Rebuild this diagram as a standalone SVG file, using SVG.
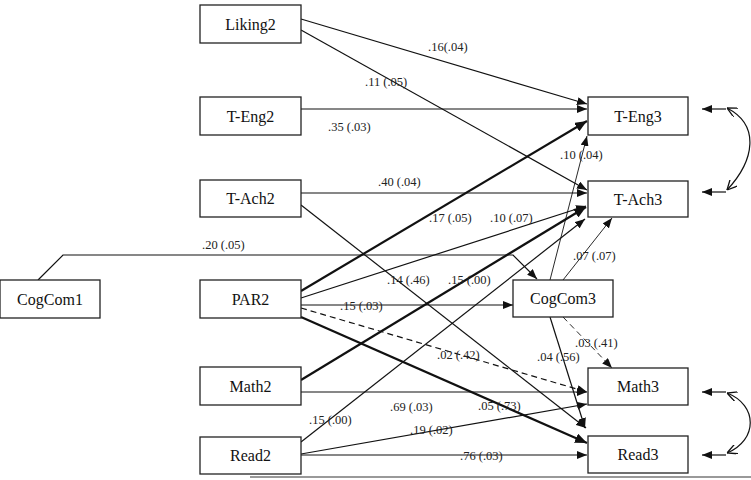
<svg xmlns="http://www.w3.org/2000/svg" width="751" height="480" viewBox="0 0 751 480">
<style>
.box{fill:#fff;stroke:#222;stroke-width:1.3}
.bt{font-size:16px;fill:#111;text-anchor:middle}
.lb{font-size:12.5px;fill:#222}
.c{fill:none;stroke:#111;stroke-width:1.2}
.t{stroke-width:2.2}
.f{stroke-width:0.9}
.d{stroke-dasharray:6,4}
</style>
<defs>
<marker id="ah" viewBox="0 0 10 8" refX="10" refY="4" markerWidth="10" markerHeight="8" markerUnits="userSpaceOnUse" orient="auto"><path d="M0,0 L10,4 L0,8 Z" fill="#111"/></marker>
<marker id="ahb" viewBox="0 0 12 10" refX="12" refY="5" markerWidth="12" markerHeight="10" markerUnits="userSpaceOnUse" orient="auto"><path d="M0,0 L12,5 L0,10 Z" fill="#111"/></marker>
<marker id="op" viewBox="0 0 10 10" refX="10" refY="5" markerWidth="10" markerHeight="10" markerUnits="userSpaceOnUse" orient="auto-start-reverse"><path d="M0,0 L10,5 L0,10" fill="none" stroke="#111" stroke-width="1.3"/></marker>
</defs>
<g id="connectors">
<line class="c" x1="301" y1="19" x2="587" y2="104" marker-end="url(#ah)"/>
<line class="c" x1="301" y1="30" x2="587" y2="190" marker-end="url(#ah)"/>
<line class="c" x1="301" y1="109" x2="587" y2="109" marker-end="url(#ah)"/>
<line class="c" x1="301" y1="193" x2="587" y2="193" marker-end="url(#ah)"/>
<line class="c" x1="301" y1="205" x2="586" y2="428" marker-end="url(#ah)"/>
<line class="c t" x1="301" y1="291" x2="587" y2="121" marker-end="url(#ahb)"/>
<line class="c" x1="301" y1="298" x2="586" y2="206" marker-end="url(#ah)"/>
<line class="c" x1="301" y1="305" x2="513" y2="305" marker-end="url(#ah)"/>
<line class="c d" x1="301" y1="308" x2="587" y2="392" marker-end="url(#ah)"/>
<line class="c t" x1="301" y1="317" x2="587" y2="443" marker-end="url(#ahb)"/>
<line class="c t" x1="301" y1="380" x2="586" y2="207" marker-end="url(#ahb)"/>
<line class="c" x1="301" y1="392" x2="587" y2="392" marker-end="url(#ah)"/>
<line class="c" x1="301" y1="442" x2="585" y2="219" marker-end="url(#ah)"/>
<line class="c" x1="301" y1="454" x2="587" y2="404" marker-end="url(#ah)"/>
<line class="c" x1="301" y1="455" x2="587" y2="455" marker-end="url(#ah)"/>
<polyline class="c" points="38,280 63,255 513,255 537,279" marker-end="url(#ah)"/>
<line class="c f" x1="550" y1="280" x2="587" y2="136" marker-end="url(#ah)"/>
<line class="c f" x1="563" y1="280" x2="612" y2="218" marker-end="url(#ah)"/>
<line class="c f d" x1="563" y1="317" x2="612" y2="368" marker-end="url(#ah)"/>
<line class="c" x1="550" y1="317" x2="585" y2="428" marker-end="url(#ah)"/>
<line class="c" x1="726" y1="109" x2="702" y2="109" marker-end="url(#ah)"/>
<line class="c" x1="726" y1="192" x2="702" y2="192" marker-end="url(#ah)"/>
<line class="c" x1="726" y1="392" x2="702" y2="392" marker-end="url(#ah)"/>
<line class="c" x1="726" y1="455" x2="702" y2="455" marker-end="url(#ah)"/>
<path class="c" d="M727,108 C760,125 755,160 727,190" marker-start="url(#op)" marker-end="url(#op)"/>
<path class="c" d="M727,393 C758,405 758,440 727,453" marker-start="url(#op)" marker-end="url(#op)"/>
<line x1="250" y1="477" x2="751" y2="477" stroke="#999" stroke-width="2"/>
</g>
<g id="labels" font-family="'Liberation Serif', 'DejaVu Serif', serif">
<text class="lb" x="428" y="51">.16(.04)</text>
<text class="lb" x="365" y="85.5">.11 (.05)</text>
<text class="lb" x="328" y="131">.35 (.03)</text>
<text class="lb" x="560" y="158.5">.10 (.04)</text>
<text class="lb" x="378" y="185.5">.40 (.04)</text>
<text class="lb" x="429" y="221.5">.17 (.05)</text>
<text class="lb" x="490" y="221.5">.10 (.07)</text>
<text class="lb" x="202" y="248.5">.20 (.05)</text>
<text class="lb" x="573" y="259.5">.07 (.07)</text>
<text class="lb" x="387" y="284">.14 (.46)</text>
<text class="lb" x="448" y="284">.15 (.00)</text>
<text class="lb" x="340" y="309.5">.15 (.03)</text>
<text class="lb" x="575" y="346.5">.03 (.41)</text>
<text class="lb" x="437" y="359">.02 (.42)</text>
<text class="lb" x="537" y="360.5">.04 (.56)</text>
<text class="lb" x="390" y="410.5">.69 (.03)</text>
<text class="lb" x="478" y="409.5">.05 (.73)</text>
<text class="lb" x="309" y="423.5">.15 (.00)</text>
<text class="lb" x="410" y="434">.19 (.02)</text>
<text class="lb" x="460" y="459.5">.76 (.03)</text>
</g>
<g id="nodes" font-family="'Liberation Serif', 'DejaVu Serif', serif">
<g id="Liking2"><rect class="box" x="200" y="5" width="101" height="38"/><text class="bt" x="250.5" y="29.5">Liking2</text></g>
<g id="T-Eng2"><rect class="box" x="200" y="97" width="101" height="38"/><text class="bt" x="250.5" y="121.5">T-Eng2</text></g>
<g id="T-Ach2"><rect class="box" x="200" y="180" width="101" height="37"/><text class="bt" x="250.5" y="204">T-Ach2</text></g>
<g id="CogCom1"><rect class="box" x="0" y="280" width="100" height="38"/><text class="bt" x="50" y="304.5">CogCom1</text></g>
<g id="PAR2"><rect class="box" x="200" y="280" width="101" height="38"/><text class="bt" x="250.5" y="304.5">PAR2</text></g>
<g id="Math2"><rect class="box" x="200" y="367" width="101" height="38"/><text class="bt" x="250.5" y="391.5">Math2</text></g>
<g id="Read2"><rect class="box" x="200" y="437" width="101" height="37"/><text class="bt" x="250.5" y="461">Read2</text></g>
<g id="T-Eng3"><rect class="box" x="588" y="97" width="100" height="38"/><text class="bt" x="638" y="121.5">T-Eng3</text></g>
<g id="T-Ach3"><rect class="box" x="588" y="181" width="100" height="36"/><text class="bt" x="638" y="204.5">T-Ach3</text></g>
<g id="CogCom3"><rect class="box" x="513" y="280" width="100" height="37"/><text class="bt" x="563" y="304">CogCom3</text></g>
<g id="Math3"><rect class="box" x="588" y="368" width="100" height="37"/><text class="bt" x="638" y="392">Math3</text></g>
<g id="Read3"><rect class="box" x="588" y="436" width="100" height="37"/><text class="bt" x="638" y="460">Read3</text></g>
</g>
</svg>
